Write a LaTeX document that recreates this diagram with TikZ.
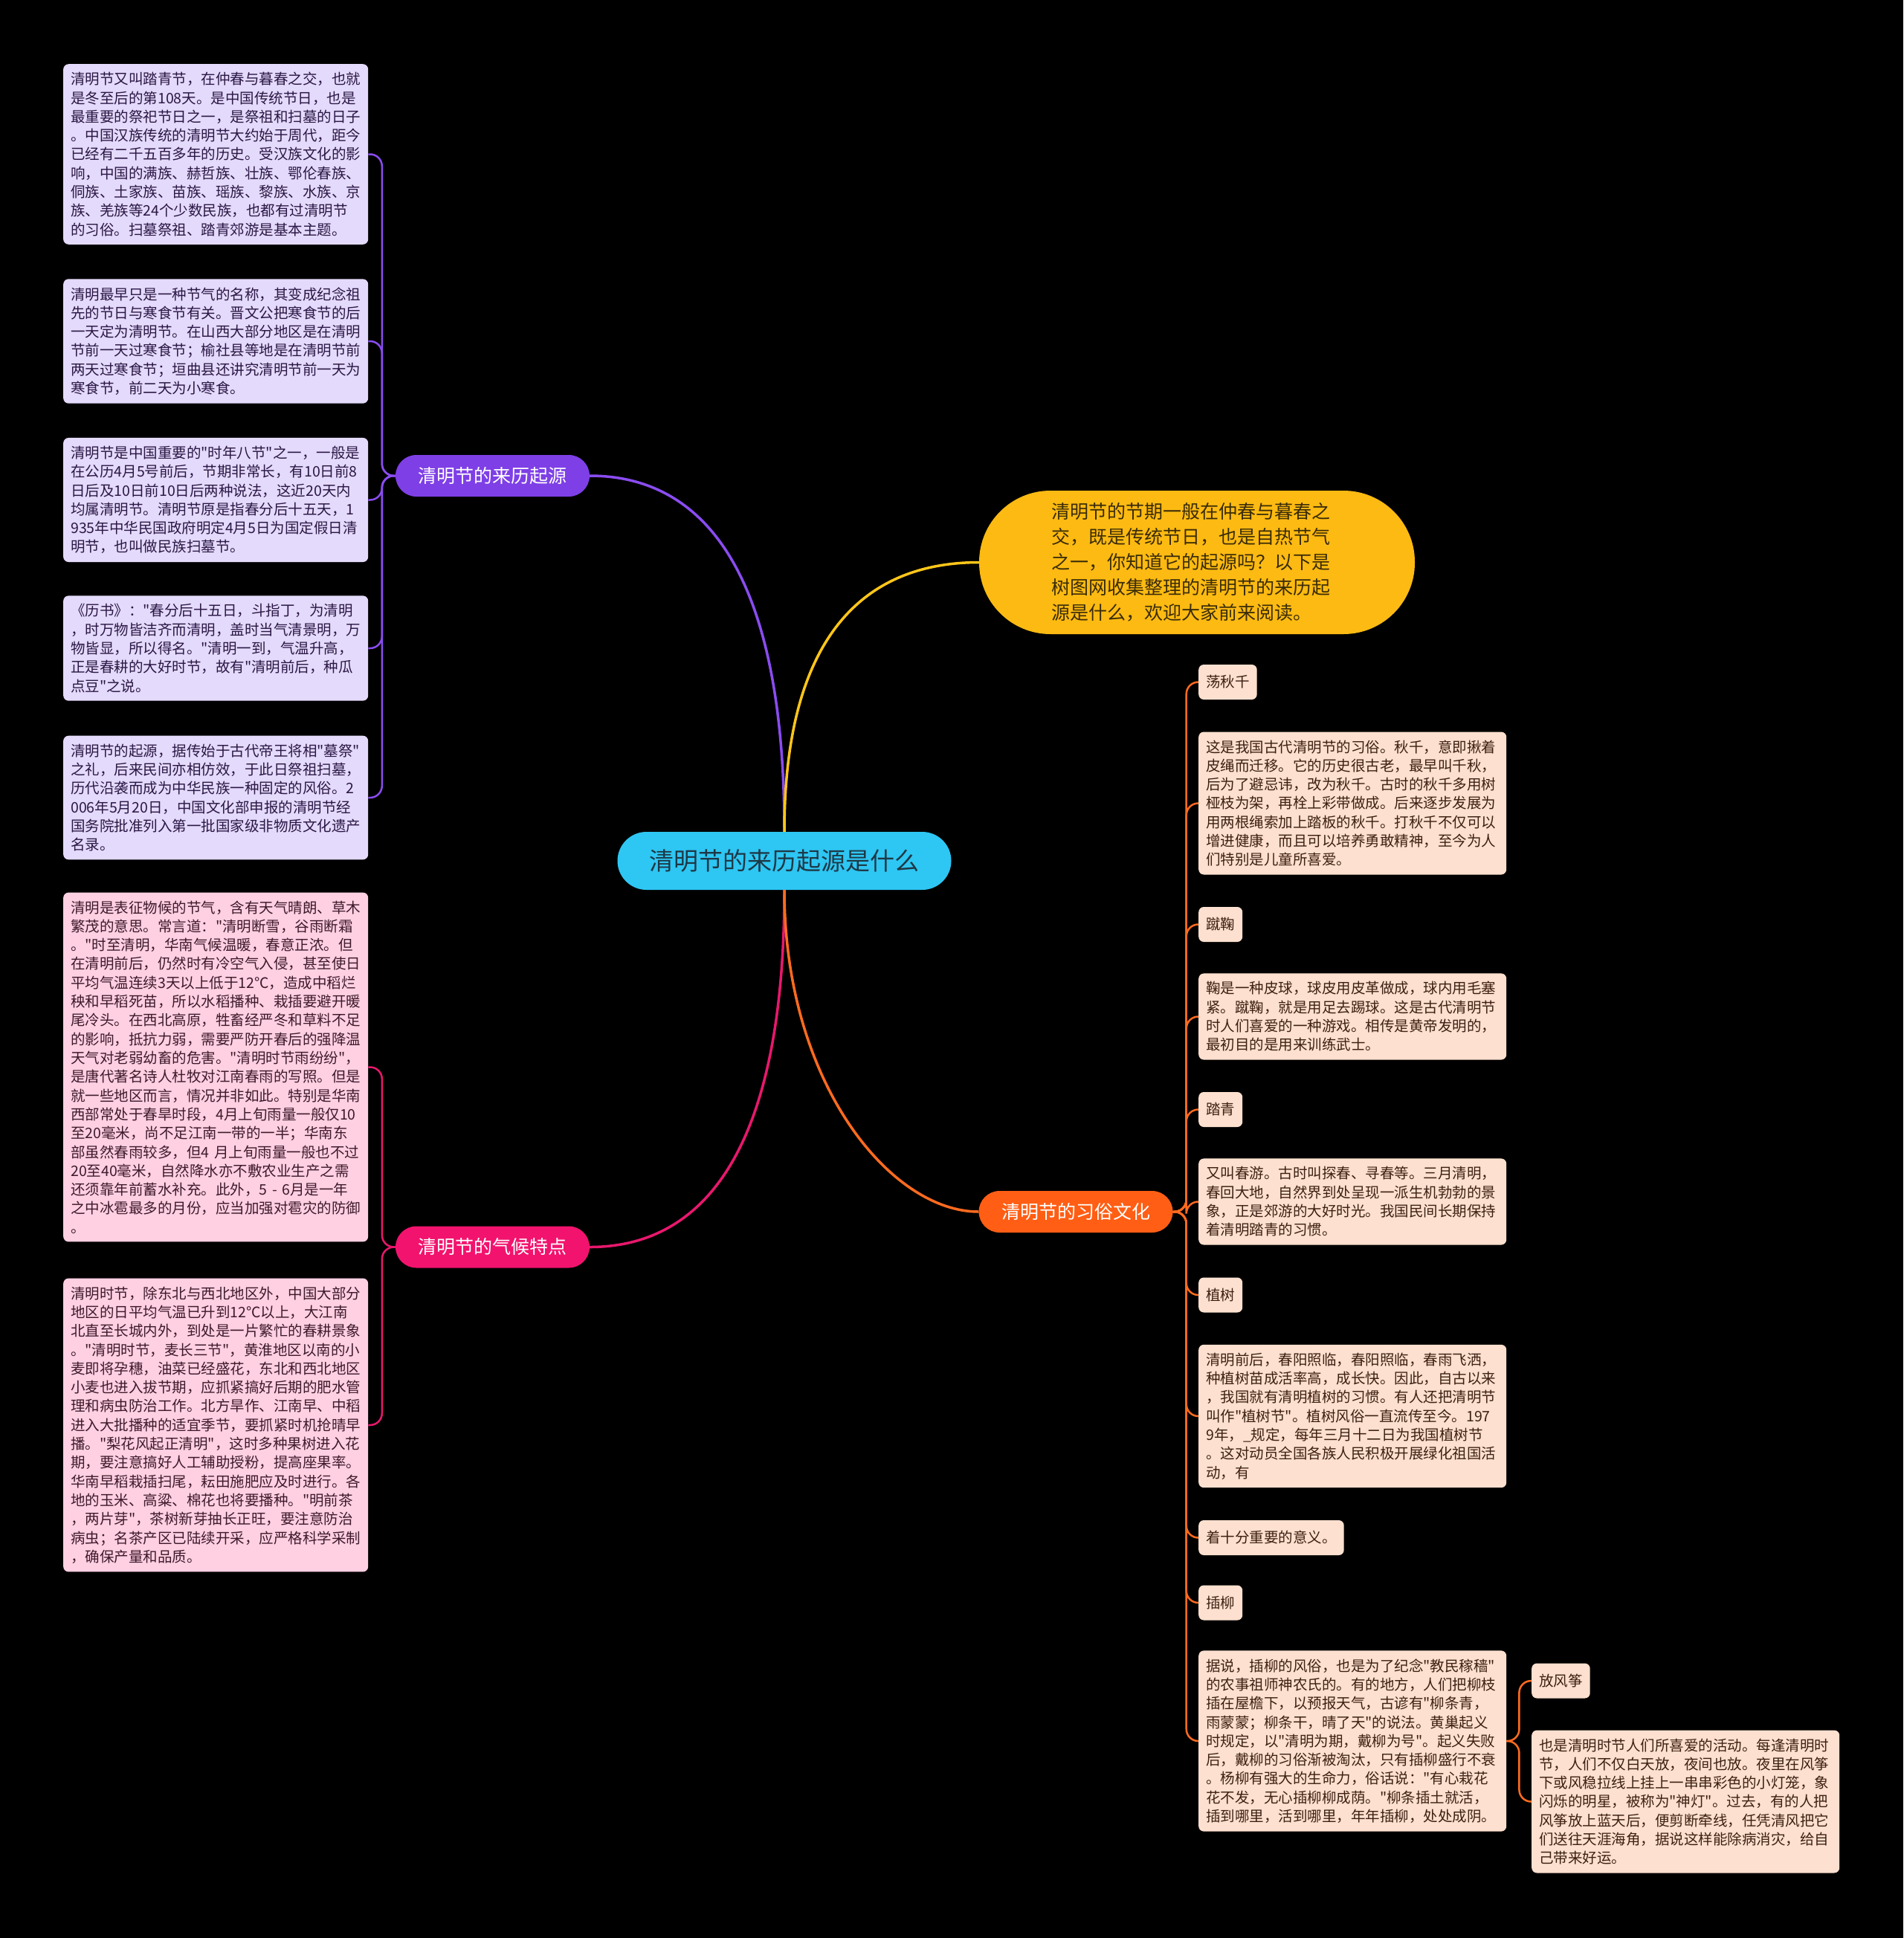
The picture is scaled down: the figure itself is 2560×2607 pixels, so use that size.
\documentclass[tikz,border=0pt]{standalone}
\usepackage{fontspec}
\setmainfont{Noto Sans CJK SC}[Ligatures=TeXOff]
\usepackage{tikz}

\definecolor{rootblue}{HTML}{2EC6F3}
\definecolor{roottext}{HTML}{1E3846}
\definecolor{introyellow}{HTML}{FDBA12}
\definecolor{introtext}{HTML}{3A2C08}
\definecolor{purplenode}{HTML}{7E3FE6}
\definecolor{pinknode}{HTML}{F2136E}
\definecolor{orangenode}{HTML}{FF5E14}
\definecolor{purpleline}{HTML}{8A4CF0}
\definecolor{yellowline}{HTML}{FFC61A}
\definecolor{pinkline}{HTML}{E8186D}
\definecolor{orangeline}{HTML}{FF6B1F}
\definecolor{purplefill}{HTML}{E4DAFB}
\definecolor{pinkfill}{HTML}{FFD0E2}
\definecolor{peachfill}{HTML}{FDE0CF}
\definecolor{purpleink}{HTML}{2A1745}
\definecolor{pinkink}{HTML}{3D1A2A}
\definecolor{peachink}{HTML}{3E2012}

\begin{document}
\begin{tikzpicture}[
		x=1pt, y=-1pt,
		rootnode/.style={fill=rootblue, text=roottext, rounded corners=39pt, minimum width=449pt, minimum height=78pt, font=\fontsize{33}{40}\selectfont},
		introbox/.style={fill=introyellow, text=introtext, rounded corners=96pt, minimum width=586pt, minimum height=193pt, text width=392pt, align=left, font=\fontsize{25}{34}\selectfont},
		branchnode/.style={rounded corners=28pt, minimum width=261pt, minimum height=56pt, text=white, font=\fontsize{25}{30}\selectfont},
		leafbox/.style={rounded corners=7pt, inner xsep=10pt, inner ysep=11pt, align=left, anchor=west, font=\fontsize{19.5}{25.3}\selectfont},
		purpleleaf/.style={leafbox, fill=purplefill, text=purpleink, text width=390pt},
		pinkleaf/.style={leafbox, fill=pinkfill, text=pinkink, text width=390pt},
		peachleaf/.style={leafbox, fill=peachfill, text=peachink, text width=394pt},
		peachtag/.style={leafbox, fill=peachfill, text=peachink, minimum height=47pt},
		mainline/.style={line width=3.5pt},
		twig/.style={line width=2.5pt, rounded corners=16pt}
	]
  \path[use as bounding box, fill=black] (0,0) rectangle (2560,2607);

  \node (root) [rootnode] at (1055,1158) {清明节的来历起源是什么};
  \node (intro) [introbox] at (1610,756.5) {清明节的节期一般在仲春与暮春之\\交，既是传统节日，也是自热节气\\之一，你知道它的起源吗？以下是\\树图网收集整理的清明节的来历起\\源是什么，欢迎大家前来阅读。};
  \node (b_origin) [branchnode, fill=purplenode] at (662.5,640) {清明节的来历起源};
  \node (b_climate) [branchnode, fill=pinknode] at (662.5,1677.5) {清明节的气候特点};
  \node (b_custom) [branchnode, fill=orangenode] at (1447,1630) {清明节的习俗文化};

  \node (o_1) [purpleleaf] at (85,207.5) {清明节又叫踏青节，在仲春与暮春之交，也就\\是冬至后的第108天。是中国传统节日，也是\\最重要的祭祀节日之一，是祭祖和扫墓的日子\\。中国汉族传统的清明节大约始于周代，距今\\已经有二千五百多年的历史。受汉族文化的影\\响，中国的满族、赫哲族、壮族、鄂伦春族、\\侗族、土家族、苗族、瑶族、黎族、水族、京\\族、羌族等24个少数民族，也都有过清明节\\的习俗。扫墓祭祖、踏青郊游是基本主题。};
  \node (o_2) [purpleleaf] at (85,459) {清明最早只是一种节气的名称，其变成纪念祖\\先的节日与寒食节有关。晋文公把寒食节的后\\一天定为清明节。在山西大部分地区是在清明\\节前一天过寒食节；榆社县等地是在清明节前\\两天过寒食节；垣曲县还讲究清明节前一天为\\寒食节，前二天为小寒食。};
  \node (o_3) [purpleleaf] at (85,672.5) {清明节是中国重要的"时年八节"之一，一般是\\在公历4月5号前后，节期非常长，有10日前8\\日后及10日前10日后两种说法，这近20天内\\均属清明节。清明节原是指春分后十五天，1\\935年中华民国政府明定4月5日为国定假日清\\明节，也叫做民族扫墓节。};
  \node (o_4) [purpleleaf] at (85,872) {《历书》："春分后十五日，斗指丁，为清明\\，时万物皆洁齐而清明，盖时当气清景明，万\\物皆显，所以得名。"清明一到，气温升高，\\正是春耕的大好时节，故有"清明前后，种瓜\\点豆"之说。};
  \node (o_5) [purpleleaf] at (85,1073) {清明节的起源，据传始于古代帝王将相"墓祭"\\之礼，后来民间亦相仿效，于此日祭祖扫墓，\\历代沿袭而成为中华民族一种固定的风俗。2\\006年5月20日，中国文化部申报的清明节经\\国务院批准列入第一批国家级非物质文化遗产\\名录。};

  \node (c_1) [pinkleaf] at (85,1435.5) {清明是表征物候的节气，含有天气晴朗、草木\\繁茂的意思。常言道："清明断雪，谷雨断霜\\。"时至清明，华南气候温暖，春意正浓。但\\在清明前后，仍然时有冷空气入侵，甚至使日\\平均气温连续3天以上低于12℃，造成中稻烂\\秧和早稻死苗，所以水稻播种、栽插要避开暖\\尾冷头。在西北高原，牲畜经严冬和草料不足\\的影响，抵抗力弱，需要严防开春后的强降温\\天气对老弱幼畜的危害。"清明时节雨纷纷"，\\是唐代著名诗人杜牧对江南春雨的写照。但是\\就一些地区而言，情况并非如此。特别是华南\\西部常处于春旱时段，4月上旬雨量一般仅10\\至20毫米，尚不足江南一带的一半；华南东\\部虽然春雨较多，但4 月上旬雨量一般也不过\\20至40毫米，自然降水亦不敷农业生产之需\\还须靠年前蓄水补充。此外，5 - 6月是一年\\之中冰雹最多的月份，应当加强对雹灾的防御\\。};
  \node (c_2) [pinkleaf] at (85,1917) {清明时节，除东北与西北地区外，中国大部分\\地区的日平均气温已升到12℃以上，大江南\\北直至长城内外，到处是一片繁忙的春耕景象\\。"清明时节，麦长三节"，黄淮地区以南的小\\麦即将孕穗，油菜已经盛花，东北和西北地区\\小麦也进入拔节期，应抓紧搞好后期的肥水管\\理和病虫防治工作。北方旱作、江南早、中稻\\进入大批播种的适宜季节，要抓紧时机抢晴早\\播。"梨花风起正清明"，这时多种果树进入花\\期，要注意搞好人工辅助授粉，提高座果率。\\华南早稻栽插扫尾，耘田施肥应及时进行。各\\地的玉米、高粱、棉花也将要播种。"明前茶\\，两片芽"，茶树新芽抽长正旺，要注意防治\\病虫；名茶产区已陆续开采，应严格科学采制\\，确保产量和品质。};

  \node (s_swing) [peachtag] at (1612,917.5) {荡秋千};
  \node (t_swing) [peachleaf] at (1612,1080.5) {这是我国古代清明节的习俗。秋千，意即揪着\\皮绳而迁移。它的历史很古老，最早叫千秋，\\后为了避忌讳，改为秋千。古时的秋千多用树\\桠枝为架，再栓上彩带做成。后来逐步发展为\\用两根绳索加上踏板的秋千。打秋千不仅可以\\增进健康，而且可以培养勇敢精神，至今为人\\们特别是儿童所喜爱。};
  \node (s_kick) [peachtag] at (1612,1243.5) {蹴鞠};
  \node (t_kick) [peachleaf] at (1612,1367.5) {鞠是一种皮球，球皮用皮革做成，球内用毛塞\\紧。蹴鞠，就是用足去踢球。这是古代清明节\\时人们喜爱的一种游戏。相传是黄帝发明的，\\最初目的是用来训练武士。};
  \node (s_walk) [peachtag] at (1612,1492.5) {踏青};
  \node (t_walk) [peachleaf] at (1612,1616.5) {又叫春游。古时叫探春、寻春等。三月清明，\\春回大地，自然界到处呈现一派生机勃勃的景\\象，正是郊游的大好时光。我国民间长期保持\\着清明踏青的习惯。};
  \node (s_tree) [peachtag] at (1612,1742) {植树};
  \node (t_tree) [peachleaf] at (1612,1905) {清明前后，春阳照临，春阳照临，春雨飞洒，\\种植树苗成活率高，成长快。因此，自古以来\\，我国就有清明植树的习惯。有人还把清明节\\叫作"植树节"。植树风俗一直流传至今。197\\9年，\_规定，每年三月十二日为我国植树节\\。这对动员全国各族人民积极开展绿化祖国活\\动，有};
  \node (t_tree2) [peachtag] at (1612,2068.5) {着十分重要的意义。};
  \node (s_willow) [peachtag] at (1612,2156) {插柳};
  \node (t_willow) [peachleaf] at (1612,2342) {据说，插柳的风俗，也是为了纪念"教民稼穑"\\的农事祖师神农氏的。有的地方，人们把柳枝\\插在屋檐下，以预报天气，古谚有"柳条青，\\雨蒙蒙；柳条干，晴了天"的说法。黄巢起义\\时规定，以"清明为期，戴柳为号"。起义失败\\后，戴柳的习俗渐被淘汰，只有插柳盛行不衰\\。杨柳有强大的生命力，俗话说："有心栽花\\花不发，无心插柳柳成荫。"柳条插土就活，\\插到哪里，活到哪里，年年插柳，处处成阴。};
  \node (s_kite) [peachtag] at (2060,2261) {放风筝};
  \node (t_kite) [peachleaf] at (2060,2423.5) {也是清明时节人们所喜爱的活动。每逢清明时\\节，人们不仅白天放，夜间也放。夜里在风筝\\下或风稳拉线上挂上一串串彩色的小灯笼，象\\闪烁的明星，被称为"神灯"。过去，有的人把\\风筝放上蓝天后，便剪断牵线，任凭清风把它\\们送往天涯海角，据说这样能除病消灾，给自\\己带来好运。};

  \draw[mainline, purpleline] (root.north) .. controls +(0,-359) and +(147,0) .. (b_origin.east);
  \draw[mainline, yellowline] (root.north) .. controls +(0,-272) and +(-147,0) .. (intro.west);
  \draw[mainline, pinkline] (root.south) .. controls +(0,360) and +(147,0) .. (b_climate.east);
  \draw[mainline, orangeline] (root.south) .. controls +(0,260) and +(-118,0) .. (b_custom.west);

  \foreach \n in {o_1, o_2, o_3, o_4, o_5}
    \draw[twig, purpleline] (b_origin.west) -- ++(-18,0) |- (\n.east);
  \foreach \n in {c_1, c_2}
    \draw[twig, pinkline] (b_climate.west) -- ++(-18,0) |- (\n.east);
  \foreach \n in {s_swing, t_swing, s_kick, t_kick, s_walk, t_walk, s_tree, t_tree, t_tree2, s_willow, t_willow}
    \draw[twig, orangeline] (b_custom.east) -- ++(18,0) |- (\n.west);
  \foreach \n in {s_kite, t_kite}
    \draw[twig, orangeline] (t_willow.east) -- ++(17,0) |- (\n.west);
\end{tikzpicture}
\end{document}
